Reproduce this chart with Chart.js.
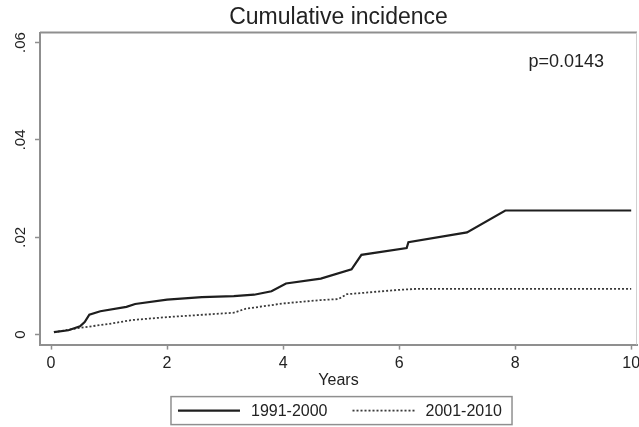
<!DOCTYPE html>
<html>
<head>
<meta charset="utf-8">
<title>Cumulative incidence</title>
<script src="https://cdn.jsdelivr.net/npm/chart.js@4/dist/chart.umd.min.js"></script>
<style>
  html, body { margin: 0; padding: 0; background: #fff; }
  #wrap { width: 639px; height: 427px; position: relative; }
</style>
</head>
<body>
<div id="wrap"><canvas id="chart"></canvas></div>
<script>
// ── Data ────────────────────────────────────────
const LABEL_A  = '1991-2000';
const YEARS_A  = [0.05, 0.3, 0.5, 0.58, 0.66, 0.85, 1.3, 1.45, 2.0, 2.6, 3.15, 3.5, 3.8, 4.05, 4.65, 5.18, 5.35, 6.13, 6.16, 7.17, 7.83, 10.0];
const CUM_A    = [0.0005, 0.0009, 0.0017, 0.0026, 0.0041, 0.0048, 0.0057, 0.0063, 0.0072, 0.0077, 0.0079, 0.0082, 0.0089, 0.0105, 0.0115, 0.0134, 0.0164, 0.0178, 0.0190, 0.0210, 0.0255, 0.0255];

const LABEL_B  = '2001-2010';
const YEARS_B  = [0.05, 0.5, 1.0, 1.4, 2.0, 3.15, 3.35, 4.0, 4.65, 4.95, 5.1, 6.0, 6.3, 10.0];
const CUM_B    = [0.0005, 0.0014, 0.0022, 0.0030, 0.0036, 0.0045, 0.0053, 0.0064, 0.0071, 0.0073, 0.0083, 0.0092, 0.0094, 0.0094];

const X_TICKS  = [0, 2, 4, 6, 8, 10];
const Y_TICKS  = [0, 0.02, 0.04, 0.06];
const P_TEXT   = 'p=0.0143';
const P_AT     = { x: 8.88, y: 0.0561 };   // where the p-value sits, in data units

const FONT     = "'Liberation Sans', Arial, sans-serif";
const INK      = '#222';
const AXIS     = '#8f8f8f';

const pts = (xs, ys) => xs.map((x, i) => ({ x, y: ys[i] }));

// ── Plot frame: top + right edges (left/bottom come from the axes) ──
const framePlugin = {
  id: 'frame',
  beforeDatasetsDraw(chart) {
    const { ctx, chartArea: a } = chart;
    ctx.save();
    ctx.strokeStyle = AXIS;
    ctx.lineWidth = 2;
    ctx.beginPath();
    ctx.moveTo(a.left, a.top);
    ctx.lineTo(a.right, a.top);
    ctx.stroke();
    ctx.strokeStyle = '#d0d0d0';
    ctx.lineWidth = 1;
    ctx.beginPath();
    ctx.moveTo(a.right - 0.5, a.top);
    ctx.lineTo(a.right - 0.5, a.bottom);
    ctx.stroke();
    ctx.restore();
  }
};

// ── p-value label ─────────────────────────────
const pPlugin = {
  id: 'pval',
  afterDraw(chart) {
    const { ctx, scales } = chart;
    ctx.save();
    ctx.font = `18px ${FONT}`;
    ctx.fillStyle = INK;
    ctx.textAlign = 'center';
    ctx.textBaseline = 'middle';
    ctx.fillText(P_TEXT, scales.x.getPixelForValue(P_AT.x), scales.y.getPixelForValue(P_AT.y));
    ctx.restore();
  }
};

// ── Boxed legend under the axis title ─────────
const boxLegend = {
  id: 'boxLegend',
  afterDraw(chart) {
    const { ctx, chartArea: a } = chart;
    const sets = chart.data.datasets;
    const sample = 62, gap = 11, between = 25, padL = 7, padR = 10;
    ctx.save();
    ctx.font = `16px ${FONT}`;
    const widths = sets.map(d => ctx.measureText(d.label).width);
    const total = padL + padR + widths.reduce((s, w) => s + sample + gap + w, 0) + between * (sets.length - 1);
    const left = (a.left + a.right) / 2 + 3 - total / 2;
    const top = a.bottom + 52, h = 28, mid = top + h / 2;

    ctx.strokeStyle = AXIS;
    ctx.lineWidth = 1.5;
    ctx.strokeRect(left, top, total, h);

    let x = left + padL;
    sets.forEach((d, i) => {
      ctx.strokeStyle = d.borderColor;
      ctx.lineWidth = d.borderWidth;
      ctx.setLineDash(d.borderDash || []);
      ctx.beginPath();
      ctx.moveTo(x, mid);
      ctx.lineTo(x + sample, mid);
      ctx.stroke();
      ctx.setLineDash([]);
      x += sample + gap;
      ctx.fillStyle = INK;
      ctx.textAlign = 'left';
      ctx.textBaseline = 'middle';
      ctx.fillText(d.label, x, mid + 1);
      x += widths[i] + between;
    });
    ctx.restore();
  }
};

new Chart(document.getElementById('chart'), {
  type: 'line',
  data: {
    datasets: [
      { label: LABEL_A, data: pts(YEARS_A, CUM_A), borderColor: '#1e1e1e', borderWidth: 2.2,
        pointRadius: 0, tension: 0, fill: false },
      { label: LABEL_B, data: pts(YEARS_B, CUM_B), borderColor: '#3a3a3a', borderWidth: 1.8,
        borderDash: [2, 2], pointRadius: 0, tension: 0, fill: false }
    ]
  },
  options: {
    responsive: true,
    maintainAspectRatio: false,
    animation: false,
    layout: { padding: { left: 9, right: 2, top: 0, bottom: 35 } },
    plugins: {
      legend: { display: false },
      tooltip: { enabled: false },
      title: {
        display: true, text: 'Cumulative incidence', fullSize: false,
        color: INK, font: { family: FONT, size: 23, weight: 'normal' },
        padding: { top: 4, bottom: 1 }
      }
    },
    scales: {
      x: {
        type: 'linear', min: -0.19, max: 10.1,
        afterBuildTicks: s => { s.ticks = X_TICKS.map(v => ({ value: v })); },
        afterFit: s => { s.paddingLeft = 0; s.paddingRight = 0; },
        grid: { drawOnChartArea: false, drawTicks: true, tickLength: 5, tickColor: AXIS, tickWidth: 1.5 },
        border: { display: true, color: AXIS, width: 2 },
        ticks: { color: INK, padding: 4, maxRotation: 0, font: { family: FONT, size: 16 },
                 callback: v => String(v) },
        title: { display: true, text: 'Years', color: INK, font: { family: FONT, size: 16 },
                 padding: { top: -6, bottom: 2 } }
      },
      y: {
        type: 'linear', min: -0.00205, max: 0.06205,
        afterBuildTicks: s => { s.ticks = Y_TICKS.map(v => ({ value: v })); },
        afterFit: s => { s.paddingTop = 0; s.paddingBottom = 0; },
        grid: { drawOnChartArea: false, drawTicks: true, tickLength: 5, tickColor: AXIS, tickWidth: 1.5 },
        border: { display: true, color: AXIS, width: 2 },
        ticks: { color: INK, padding: 4, minRotation: 90, maxRotation: 90, crossAlign: 'center',
                 font: { family: FONT, size: 15 },
                 callback: v => v === 0 ? '0' : v.toFixed(2).replace(/^0/, '') }
      }
    }
  },
  plugins: [framePlugin, pPlugin, boxLegend]
});
</script>
</body>
</html>
